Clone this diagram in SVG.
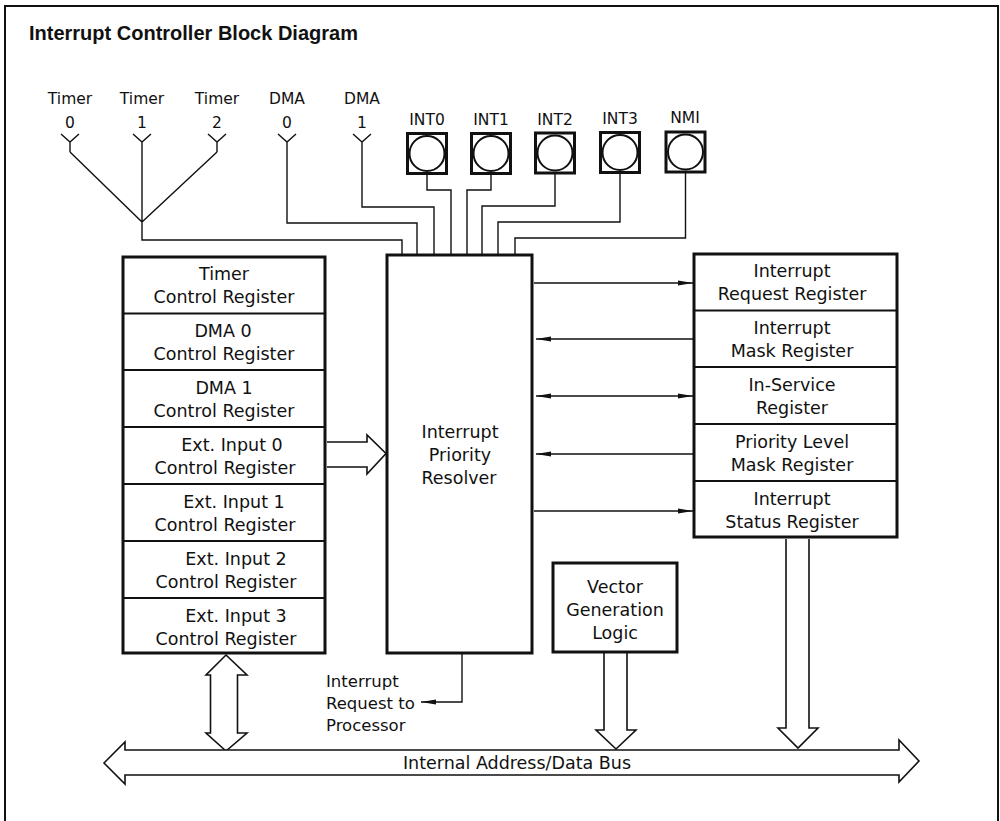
<svg xmlns="http://www.w3.org/2000/svg" width="1000" height="821" viewBox="0 0 1000 821">
<defs>
<style>
text{font-family:"DejaVu Sans","Liberation Sans",sans-serif;font-size:17.5px;fill:#111;text-anchor:middle}
.title{font-family:"Liberation Sans",Arial,sans-serif;font-weight:bold;font-size:20px;text-anchor:start}
.lbl{font-size:15.5px}
.irq{font-size:16.5px;text-anchor:start}
.box{fill:#fff;stroke:#111;stroke-width:3}
.div{stroke:#111;stroke-width:2.2;fill:none}
.ln{stroke:#111;stroke-width:1.4;fill:none}
.hollow{fill:#fff;stroke:#111;stroke-width:1.6;stroke-linejoin:miter}
</style>
<marker id="ah" markerUnits="userSpaceOnUse" markerWidth="16" markerHeight="8" refX="15" refY="3" orient="auto-start-reverse" viewBox="0 0 16 6">
<path d="M0,0.6 L15,3 L0,5.4 Z" fill="#111"/>
</marker>
</defs>
<rect width="1000" height="821" fill="#fff"/>
<path d="M5,830 V6 H998 V830" fill="none" stroke="#111" stroke-width="2"/>
<text class="title" x="29" y="40">Interrupt Controller Block Diagram</text>

<g id="sources">
<g id="timer0"><text class="lbl" x="70" y="104">Timer</text><text class="lbl" x="70" y="128">0</text><path class="ln" d="M61,134 L70,142 L79,134 M70,142 V152"/></g>
<g id="timer1"><text class="lbl" x="142" y="104">Timer</text><text class="lbl" x="142" y="128">1</text><path class="ln" d="M133,134 L142,142 L151,134 M142,142 V152"/></g>
<g id="timer2"><text class="lbl" x="217" y="104">Timer</text><text class="lbl" x="217" y="128">2</text><path class="ln" d="M208,134 L217,142 L226,134 M217,142 V152"/></g>
<g id="dma0"><text class="lbl" x="287" y="104">DMA</text><text class="lbl" x="287" y="128">0</text><path class="ln" d="M278,134 L287,142 L296,134 M287,142 V152"/></g>
<g id="dma1"><text class="lbl" x="362" y="104">DMA</text><text class="lbl" x="362" y="128">1</text><path class="ln" d="M353,134 L362,142 L371,134 M362,142 V152"/></g>
<g id="int0"><text class="lbl" x="427" y="125">INT0</text><rect class="box" x="407.5" y="133.5" width="39" height="40"/><circle cx="427" cy="153.5" r="17.5" fill="none" stroke="#111" stroke-width="2"/></g>
<g id="int1"><text class="lbl" x="491" y="125">INT1</text><rect class="box" x="471.5" y="133.5" width="39" height="40"/><circle cx="491" cy="153.5" r="17.5" fill="none" stroke="#111" stroke-width="2"/></g>
<g id="int2"><text class="lbl" x="555" y="125">INT2</text><rect class="box" x="535.5" y="133" width="39" height="40"/><circle cx="555" cy="153" r="17.5" fill="none" stroke="#111" stroke-width="2"/></g>
<g id="int3"><text class="lbl" x="620" y="124">INT3</text><rect class="box" x="600.5" y="132.5" width="39" height="40"/><circle cx="620" cy="152.5" r="17.5" fill="none" stroke="#111" stroke-width="2"/></g>
<g id="nmi"><text class="lbl" x="685" y="123">NMI</text><rect class="box" x="666" y="132" width="39" height="40"/><circle cx="685.5" cy="152" r="17.5" fill="none" stroke="#111" stroke-width="2"/></g>
</g>

<g id="connectors">
<path class="ln" d="M70,152 L142,222 L217,152 M142,152 V240 H402 V255"/>
<path class="ln" d="M287,152 V223 H417 V255"/>
<path class="ln" d="M362,152 V207 H434 V255"/>
<path class="ln" d="M427,173 V190 H451 V255" stroke="#666"/>
<path class="ln" d="M491,173 V190 H467 V255"/>
<path class="ln" d="M555,173 V206 H482 V255"/>
<path class="ln" d="M620,172 V222 H498 V255"/>
<path class="ln" d="M685.5,172 V238 H515 V255"/>
<line class="ln" x1="534" y1="283" x2="693" y2="283" marker-end="url(#ah)"/>
<line class="ln" x1="536" y1="339" x2="694" y2="339" marker-start="url(#ah)"/>
<line class="ln" x1="536" y1="396" x2="693" y2="396" marker-start="url(#ah)" marker-end="url(#ah)"/>
<line class="ln" x1="536" y1="454" x2="694" y2="454" marker-start="url(#ah)"/>
<line class="ln" x1="534" y1="511" x2="693" y2="511" marker-end="url(#ah)"/>
<path class="ln" d="M462,654 V702 H421" marker-end="url(#ah)"/>
<path class="hollow" d="M327,442 H367 V435 L386,453.5 L367,474 V467 H327"/>
<path class="hollow" d="M226,655 L247,675 H237.5 V733 H247 L226,751 L206,733 H210.5 V675 H206 Z"/>
<path class="hollow" d="M604,653 V730 H596 L616,749 L636,730 H627 V653"/>
<path class="hollow" d="M786,539 V728 H778 L798,748 L818,728 H809 V539"/>
<path class="hollow" d="M104,763 L125,742 V750 H899 V740 L919,761 L899,782 V775 H125 V784 Z"/>
</g>
<text x="517" y="769">Internal Address/Data Bus</text>

<g id="left-stack">
<rect class="box" x="123" y="257" width="202" height="396"/>
<path class="div" d="M123,313.5 H325 M123,370 H325 M123,427 H325 M123,484 H325 M123,541 H325 M123,598 H325"/>
<g id="timer-cr"><text x="224" y="280">Timer</text><text x="224" y="303">Control Register</text></g>
<g id="dma0-cr"><text x="223" y="337">DMA 0</text><text x="224" y="360">Control Register</text></g>
<g id="dma1-cr"><text x="224" y="394">DMA 1</text><text x="224" y="417">Control Register</text></g>
<g id="ext0-cr"><text x="232" y="451">Ext. Input 0</text><text x="225" y="474">Control Register</text></g>
<g id="ext1-cr"><text x="234" y="508">Ext. Input 1</text><text x="225" y="531">Control Register</text></g>
<g id="ext2-cr"><text x="236" y="565">Ext. Input 2</text><text x="226" y="588">Control Register</text></g>
<g id="ext3-cr"><text x="236" y="622">Ext. Input 3</text><text x="226" y="645">Control Register</text></g>
</g>

<g id="resolver">
<rect class="box" x="387" y="255" width="145" height="398"/>
<text x="460" y="438">Interrupt</text><text x="460" y="461">Priority</text><text x="459" y="484">Resolver</text>
</g>

<g id="right-stack">
<rect class="box" x="694" y="254" width="203" height="283"/>
<path class="div" d="M694,310.5 H897 M694,367 H897 M694,424 H897 M694,481 H897"/>
<g id="irr"><text x="792" y="277">Interrupt</text><text x="792" y="300">Request Register</text></g>
<g id="imr"><text x="792" y="334">Interrupt</text><text x="792" y="357">Mask Register</text></g>
<g id="isr"><text x="792" y="391">In-Service</text><text x="792" y="414">Register</text></g>
<g id="plmr"><text x="792" y="448">Priority Level</text><text x="792" y="471">Mask Register</text></g>
<g id="istat"><text x="792" y="505">Interrupt</text><text x="792" y="528">Status Register</text></g>
</g>

<g id="vector">
<rect class="box" x="553" y="563" width="124" height="89"/>
<text x="615" y="593">Vector</text><text x="615" y="616">Generation</text><text x="615" y="639">Logic</text>
</g>

<g id="irq-label">
<text class="irq" x="326" y="687">Interrupt</text>
<text class="irq" x="326" y="709">Request to</text>
<text class="irq" x="326" y="731">Processor</text>
</g>
</svg>
